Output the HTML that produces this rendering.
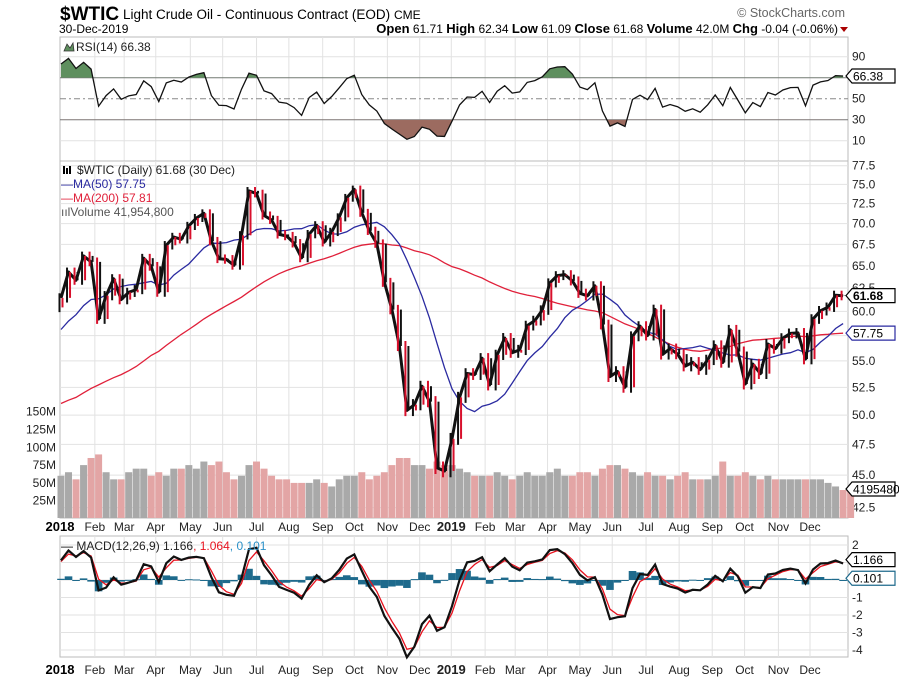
<!DOCTYPE html>
<html><head><meta charset="utf-8">
<style>
body{margin:0;background:#fff;}
svg{display:block;font-family:"Liberation Sans",sans-serif;}
</style></head>
<body>
<svg id="chart" width="899" height="681" viewBox="0 0 899 681">
  <text x="60" y="20" font-size="19" font-weight="bold" fill="#000">$WTIC</text>
  <text x="123" y="19" font-size="13.5" fill="#000">Light Crude Oil - Continuous Contract (EOD)</text>
  <text x="394" y="19" font-size="12" fill="#000">CME</text>
  <text x="845" y="17" font-size="12.5" fill="#666" text-anchor="end">© StockCharts.com</text>
  <text x="59" y="33" font-size="12" fill="#000">30-Dec-2019</text>
  <text x="838" y="33" font-size="12" fill="#000" text-anchor="end"><tspan font-weight="bold" font-size="13">Open</tspan> 61.71  <tspan font-weight="bold" font-size="13">High</tspan> 62.34  <tspan font-weight="bold" font-size="13">Low</tspan> 61.09  <tspan font-weight="bold" font-size="13">Close</tspan> 61.68  <tspan font-weight="bold" font-size="13">Volume</tspan> 42.0M  <tspan font-weight="bold" font-size="13">Chg</tspan> -0.04 (-0.06%)</text>
  <path d="M840 27 L848 27 L844 32 Z" fill="#a00"/>
  <g id="layer"></g>
</svg>
<script>
const hist2017=[47.97,50.60,52.24,53.18,49.62,49.33,46.22,47.84,50.33,49.80,47.66,45.83,44.74,43.01,46.04,44.23,46.54,45.77,49.71,49.58,48.82,48.51,47.87,47.29,47.48,49.89,50.66,51.67,49.29,51.45,51.47,53.90,55.64,56.74,56.55,58.95,58.36,57.36,57.30,58.47,60.42];
const closes=[61.44,64.30,63.37,66.14,65.45,59.20,61.68,63.55,61.25,62.04,62.34,65.88,64.94,62.06,67.39,68.38,68.10,69.72,70.70,71.28,67.88,65.81,65.74,65.06,68.58,74.15,73.80,71.01,70.46,68.69,68.49,67.63,65.91,68.72,69.80,67.75,68.99,70.78,73.25,74.34,71.34,69.12,67.59,63.14,60.19,56.46,50.42,50.93,52.61,51.20,45.59,45.33,
47.96,51.59,53.80,53.69,55.26,52.72,55.59,57.26,55.80,56.07,58.52,59.04,60.14,63.08,63.89,64.00,63.30,61.94,61.66,62.76,58.63,53.50,53.99,52.51,57.43,58.47,57.51,60.21,55.63,56.20,55.66,54.50,54.87,54.17,55.10,56.52,54.85,58.09,55.91,52.81,54.70,53.78,56.66,56.20,57.24,57.72,57.77,55.17,59.20,60.07,60.44,61.72,61.68];
const volumes=[60,65,55,75,85,90,65,55,55,65,70,70,60,65,60,70,70,75,70,80,75,80,65,55,60,75,80,70,60,55,55,50,50,50,55,50,45,55,60,60,65,55,60,65,75,85,85,75,75,70,80,75,
75,70,65,60,60,60,65,60,55,60,65,60,60,65,70,60,60,65,65,60,70,75,75,70,65,60,65,60,60,55,60,65,55,55,55,60,80,60,60,65,60,55,60,55,55,55,55,55,55,55,50,45,40,42];
const monthLabels=['Feb','Mar','Apr','May','Jun','Jul','Aug','Sep','Oct','Nov','Dec','2019','Feb','Mar','Apr','May','Jun','Jul','Aug','Sep','Oct','Nov','Dec'];
const monthWeeks=[4.5,8.4,12.6,17.2,21.5,26,30.3,34.8,39,43.4,47.7,51.9,56.4,60.4,64.7,69,73.3,77.8,82.2,86.6,90.9,95.4,99.6];
const rsiTicks=[90,70,50,30,10];
const priceTicks=[77.5,75,72.5,70,67.5,65,62.5,60,57.5,55,52.5,50,47.5,45,42.5];
const volTicks=[150,125,100,75,50,25];
const macdTicks=[2,-1,-2,-3,-4];

const NS='http://www.w3.org/2000/svg';
const layer=document.getElementById('layer');
function mk(tag,attrs,parent){const e=document.createElementNS(NS,tag);for(const k in attrs)e.setAttribute(k,attrs[k]);(parent||layer).appendChild(e);return e;}
const L=60,R=848;
const xw=i=>61+i*7.52;
const yRsi=v=>98.7-(v-50)*1.05;
const yP=v=>165.7+(Math.log(77.5)-Math.log(v))*569.2;
const yV=v=>518.5-v*0.712;
const yM=v=>580-v*17.5;
const panels=[[37,161],[161,518],[536,657]];

panels.forEach((p,k)=>{
  const r=mk('rect',{x:L,y:p[0],width:R-L,height:p[1]-p[0],fill:'#fff',stroke:'#bbb'});
  
  
  monthWeeks.forEach(w=>{const g=mk('line',{x1:xw(w),x2:xw(w),y1:p[0],y2:p[1],stroke:'#e2e2e2'});
    
    });
});
rsiTicks.forEach(v=>{
  const g=mk('line',{x1:L,x2:R,y1:yRsi(v),y2:yRsi(v),stroke:(v==70||v==30)?'#777':(v==50?'#888':'#e2e2e2'),'stroke-dasharray':v==50?'6,3,2,3':'none'});
  
  
  const t=mk('text',{x:852,y:yRsi(v)+4,'font-size':12,fill:'#222'});t.textContent=v;
  
  
});
priceTicks.forEach(v=>{
  const g=mk('line',{x1:L,x2:R,y1:yP(v),y2:yP(v),stroke:'#e2e2e2'});
  
  
  const t=mk('text',{x:852,y:yP(v)+4,'font-size':12,fill:'#222'});t.textContent=v.toFixed(1);
  
  
});
volTicks.forEach(v=>{
  const t=mk('text',{x:56,y:yV(v)+4,'font-size':12,fill:'#222','text-anchor':'end'});t.textContent=v+'M';
  
  
});
[2,1,0,-1,-2,-3,-4].forEach(v=>{
  const g=mk('line',{x1:L,x2:R,y1:yM(v),y2:yM(v),stroke:'#e2e2e2'});
  
  
});
macdTicks.forEach(v=>{
  const t=mk('text',{x:852,y:yM(v)+4,'font-size':12,fill:'#222'});t.textContent=v;
  
  
});
[[527],[670]].forEach(a=>{
  const y=a[0]+4;
  const t0=mk('text',{x:L,y:y,'font-size':13,'font-weight':'bold','text-anchor':'middle'});t0.textContent='2018';
  
  
  monthLabels.forEach((m,i)=>{
    const t=mk('text',{x:xw(monthWeeks[i]),y:y,'font-size':m=='2019'?13:12,'font-weight':m=='2019'?'bold':'normal','text-anchor':'middle',fill:'#222'});t.textContent=m;
    
    
  });
});

volumes.forEach((v,i)=>{
  const up=closes[i]>=(i?closes[i-1]:hist2017[hist2017.length-1]);
  const b=mk('rect',{x:xw(i)-3.5,y:yV(v),width:7,height:518-yV(v),fill:up?'#a9a9a9':'#e3a5a5'});
  
  
});

const all=hist2017.concat(closes),off=hist2017.length;
function sma(n,i){let s=0;for(let k=0;k<n;k++)s+=all[off+i-k];return s/n;}
function linePath(fn){return closes.map((c,i)=>(i?'L':'M')+xw(i).toFixed(1)+' '+fn(i).toFixed(1)).join(' ');}
const ma200=mk('path',{d:linePath(i=>yP(sma(40,i))),fill:'none',stroke:'#e0203a','stroke-width':1.3});


const ma50=mk('path',{d:linePath(i=>yP(sma(10,i))),fill:'none',stroke:'#2a2aa0','stroke-width':1.3});



// price: thick close path plus thin range sticks
const pl=mk('path',{d:linePath(i=>yP(closes[i])),fill:'none',stroke:'#111','stroke-width':3,'stroke-linejoin':'round'});


closes.forEach((c,i)=>{
  const o=i?closes[i-1]:hist2017[hist2017.length-1];
  const hi=Math.max(o,c)+0.5,lo=Math.min(o,c)-0.5;
  const up=c>=o;
  const s=mk('line',{x1:xw(i)-1.5,x2:xw(i)-1.5,y1:yP(hi),y2:yP(lo),stroke:up?'#111':'#d8102c','stroke-width':2});
  
  
  const s2=mk('line',{x1:xw(i)+1.5,x2:xw(i)+1.5,y1:yP(Math.max(o,c)),y2:yP(Math.min(o,c)),stroke:up?'#d8102c':'#111','stroke-width':2});
  
  
});

let ag=0,al=0;const aR=0.16;
for(let k=1;k<off;k++){const d=all[k]-all[k-1];ag=ag*(1-aR)+aR*Math.max(d,0);al=al*(1-aR)+aR*Math.max(-d,0);}
const rsi=closes.map((c,i)=>{const d=all[off+i]-all[off+i-1];ag=ag*(1-aR)+aR*Math.max(d,0);al=al*(1-aR)+aR*Math.max(-d,0);return 100-100/(1+ag/(al||1e-6));});
const rsiD=rsi.map((v,i)=>(i?'L':'M')+xw(i).toFixed(1)+' '+yRsi(v).toFixed(1)).join(' ');
const cp=mk('clipPath',{id:'hiClip'});mk('rect',{x:L,y:37,width:R-L,height:yRsi(70)-37},cp);
const cp2=mk('clipPath',{id:'loClip'});mk('rect',{x:L,y:yRsi(30),width:R-L,height:161-yRsi(30)},cp2);
const fHi=mk('path',{d:rsiD+' L'+xw(104)+' '+yRsi(70)+' L'+xw(0)+' '+yRsi(70)+' Z',fill:'#5e8f5e','clip-path':'url(#hiClip)'});


const fLo=mk('path',{d:rsiD+' L'+xw(104)+' '+yRsi(30)+' L'+xw(0)+' '+yRsi(30)+' Z',fill:'#9c6b60','clip-path':'url(#loClip)'});


const rl=mk('path',{d:rsiD,fill:'none',stroke:'#111','stroke-width':1.3});



let e12=hist2017[0],e26=hist2017[0];
for(let k=1;k<off;k++){e12+=0.566*(all[k]-e12);e26+=0.32*(all[k]-e26);}
let sig=e12-e26;
const macd=[],sigA=[];
closes.forEach(c=>{e12+=0.566*(c-e12);e26+=0.32*(c-e26);const m=e12-e26;sig+=0.672*(m-sig);macd.push(m);sigA.push(sig);});
macd.forEach((m,i)=>{const h=m-sigA[i];
  const b=mk('rect',{x:xw(i)-3.8,y:Math.min(yM(0),yM(h)),width:7.6,height:Math.max(1,Math.abs(yM(h)-yM(0))),fill:'#1e6a8c'});
  
  });
const sl=mk('path',{d:linePath(i=>yM(sigA[i])),fill:'none',stroke:'#e8121e','stroke-width':1.3});


const ml=mk('path',{d:linePath(i=>yM(macd[i])),fill:'none',stroke:'#111','stroke-width':2.2});



function tag(y,txt,col,name,bold){
  const g=mk('g',{});
  
  
  mk('path',{d:`M846 ${y} L852 ${y-7} L895 ${y-7} L895 ${y+7} L852 ${y+7} Z`,fill:'#fff',stroke:col,'stroke-width':1.2},g);
  const t=mk('text',{x:853,y:y+4.5,'font-size':12,'font-weight':bold?'bold':'normal',fill:'#000'},g);t.textContent=txt;
}
tag(yRsi(rsi[rsi.length-1]),'66.38','#000','rsi-value-tag');
tag(yP(closes[closes.length-1]),'61.68','#000','price-value-tag',true);
tag(yP(57.75),'57.75','#2a2aa0','ma50-value-tag');
tag(489,'41954800','#000','volume-value-tag');
tag(yM(1.166),'1.166','#000','macd-value-tag');
tag(yM(0.101),'0.101','#1e6a8c','histogram-value-tag');

function leg(x,y,parts,name){const t=mk('text',{x:x,y:y,'font-size':12});
  
  
  parts.forEach(p=>{const s=mk('tspan',{fill:p[1]},t);s.textContent=p[0];});}
leg(76,51,[['RSI(14) 66.38','#222']],'rsi-legend');
mk('path',{d:'M64 51 L67 44 L70 48 L73 43 L74 51 Z',fill:'#5e8f5e',stroke:'#333','stroke-width':0.8});
leg(77,174,[['$WTIC (Daily) 61.68 (30 Dec)','#222']],'price-legend');
mk('path',{d:'M64 166 L64 174 M67 168 L67 174 M70 166 L70 174',stroke:'#000','stroke-width':2});
leg(61,188,[['—','#2a2aa0'],['MA(50) 57.75','#2a2aa0']],'ma50-legend');
leg(61,202,[['—','#e0203a'],['MA(200) 57.81','#e0203a']],'ma200-legend');
leg(61,216,[['ııl','#555'],['Volume 41,954,800','#555']],'volume-legend');
leg(61,550,[['— ','#000'],['MACD(12,26,9) 1.166','#222'],[', 1.064','#e8121e'],[', 0.101','#2a90c8']],'macd-legend');
</script>
</body></html>
